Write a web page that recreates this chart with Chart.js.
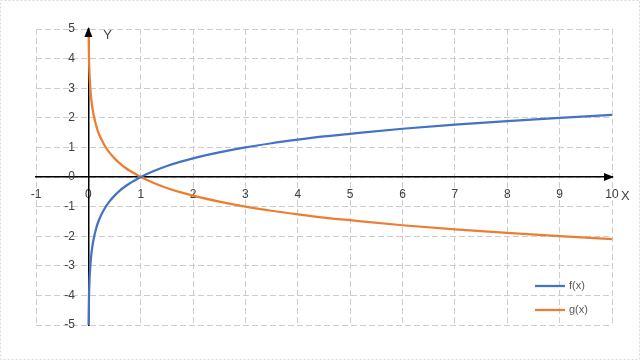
<!DOCTYPE html>
<html>
<head>
<meta charset="utf-8">
<script src="https://cdn.jsdelivr.net/npm/chart.js@4/dist/chart.umd.min.js"></script>
<style>
    html, body { margin: 0; padding: 0; background: #fff; }
    #wrap { width: 640px; height: 360px; position: relative; }
</style>
</head>
<body>
<div id="wrap"><canvas id="grafico"></canvas></div>
<script>
// valores
const xValues = [0.0041, 0.01, 0.02, 0.03, 0.05, 0.075, 0.1, 0.15, 0.2, 0.3, 0.4, 0.5, 0.6, 0.7, 0.8, 0.9, 1,
    1.25, 1.5, 1.75, 2, 2.5, 3, 3.5, 4, 4.5, 5, 6, 7, 8, 9, 10];
const fValues = [-5.00, -4.19, -3.56, -3.19, -2.73, -2.36, -2.10, -1.73, -1.46, -1.10, -0.83, -0.63, -0.46, -0.32, -0.20, -0.10, 0,
    0.20, 0.37, 0.51, 0.63, 0.83, 1.00, 1.14, 1.26, 1.37, 1.46, 1.63, 1.77, 1.89, 2.00, 2.10];
const gValues = [5.00, 4.19, 3.56, 3.19, 2.73, 2.36, 2.10, 1.73, 1.46, 1.10, 0.83, 0.63, 0.46, 0.32, 0.20, 0.10, 0,
    -0.20, -0.37, -0.51, -0.63, -0.83, -1.00, -1.14, -1.26, -1.37, -1.46, -1.63, -1.77, -1.89, -2.00, -2.10];
const seriesLabels = ['f(x)', 'g(x)'];
const seriesColors = ['#4472C4', '#ED7D31'];
const xTickRange = [-1, 10];
const yTickRange = [-5, 5];

const FONT = "'Liberation Sans', 'DejaVu Sans', sans-serif";

function toPoints(ys) {
    return xValues.map((x, i) => ({ x: x, y: ys[i] }));
}

// Flechas de los ejes, etiquetas X / Y, leyenda y marco
const axisDecor = {
    id: 'axisDecor',
    afterDraw(chart) {
        const { ctx, chartArea, scales } = chart;
        const x0 = scales.x.getPixelForValue(0);
        const y0 = scales.y.getPixelForValue(0);
        const top = scales.y.getPixelForValue(yTickRange[1]);
        const right = scales.x.getPixelForValue(xTickRange[1]);

        ctx.save();
        ctx.fillStyle = '#000';
        // flecha eje Y
        ctx.beginPath();
        ctx.moveTo(x0, top - 2);
        ctx.lineTo(x0 - 4, top + 8);
        ctx.lineTo(x0 + 4, top + 8);
        ctx.closePath();
        ctx.fill();
        // flecha eje X
        ctx.beginPath();
        ctx.moveTo(right + 2, y0);
        ctx.lineTo(right - 8, y0 - 4);
        ctx.lineTo(right - 8, y0 + 4);
        ctx.closePath();
        ctx.fill();

        ctx.fillStyle = '#404040';
        ctx.font = '13px ' + FONT;
        ctx.textAlign = 'left';
        ctx.textBaseline = 'middle';
        ctx.fillText('Y', x0 + 15, top + 6);
        ctx.fillText('X', right + 9, y0 + 19);

        // leyenda
        ctx.font = '11px ' + FONT;
        chart.data.datasets.forEach((ds, i) => {
            const ly = chartArea.bottom - 39 + i * 24;
            const lx = chartArea.right - 77;
            ctx.strokeStyle = ds.borderColor;
            ctx.lineWidth = 2.25;
            ctx.beginPath();
            ctx.moveTo(lx, ly);
            ctx.lineTo(lx + 30, ly);
            ctx.stroke();
            ctx.fillStyle = '#595959';
            ctx.fillText(ds.label, lx + 34, ly);
        });

        // marco exterior
        ctx.strokeStyle = '#d9d9d9';
        ctx.lineWidth = 1;
        ctx.setLineDash([2, 2]);
        ctx.strokeRect(0.5, 0.5, chart.width - 1, chart.height - 1);
        ctx.restore();
    }
};

const ctx = document.getElementById('grafico');
new Chart(ctx, {
    type: 'line',
    data: {
        datasets: [
            {
                label: seriesLabels[0],
                data: toPoints(fValues),
                borderColor: seriesColors[0],
                backgroundColor: seriesColors[0],
                borderWidth: 2.25,
                pointRadius: 0,
                cubicInterpolationMode: 'monotone',
                fill: false
            },
            {
                label: seriesLabels[1],
                data: toPoints(gValues),
                borderColor: seriesColors[1],
                backgroundColor: seriesColors[1],
                borderWidth: 2.25,
                pointRadius: 0,
                cubicInterpolationMode: 'monotone',
                fill: false
            }
        ]
    },
    options: {
        responsive: true,
        maintainAspectRatio: false,
        animation: false,
        layout: { padding: { left: 36, right: 28, top: 29, bottom: 35 } },
        plugins: {
            legend: { display: false },
            tooltip: { enabled: false }
        },
        scales: {
            x: {
                type: 'linear',
                position: { y: 0 },
                min: xTickRange[0],
                max: xTickRange[1],
                ticks: {
                    stepSize: 1,
                    color: '#404040',
                    font: { family: FONT, size: 12 },
                    padding: 10,
                    maxRotation: 0
                },
                grid: { color: '#cccccc', lineWidth: 1, drawTicks: false },
                border: { color: '#000', width: 1.5, dash: [6, 3] }
            },
            y: {
                type: 'linear',
                position: { x: 0 },
                min: yTickRange[0],
                max: yTickRange[1],
                ticks: {
                    stepSize: 1,
                    color: '#404040',
                    font: { family: FONT, size: 12 },
                    // el eje centrado ignora padding: se separa con espacios
                    callback: (value) => value + '    '
                },
                grid: { color: '#cccccc', lineWidth: 1, drawTicks: false },
                border: { color: '#000', width: 1.5, dash: [6, 3] }
            }
        }
    },
    plugins: [axisDecor]
});
</script>
</body>
</html>
